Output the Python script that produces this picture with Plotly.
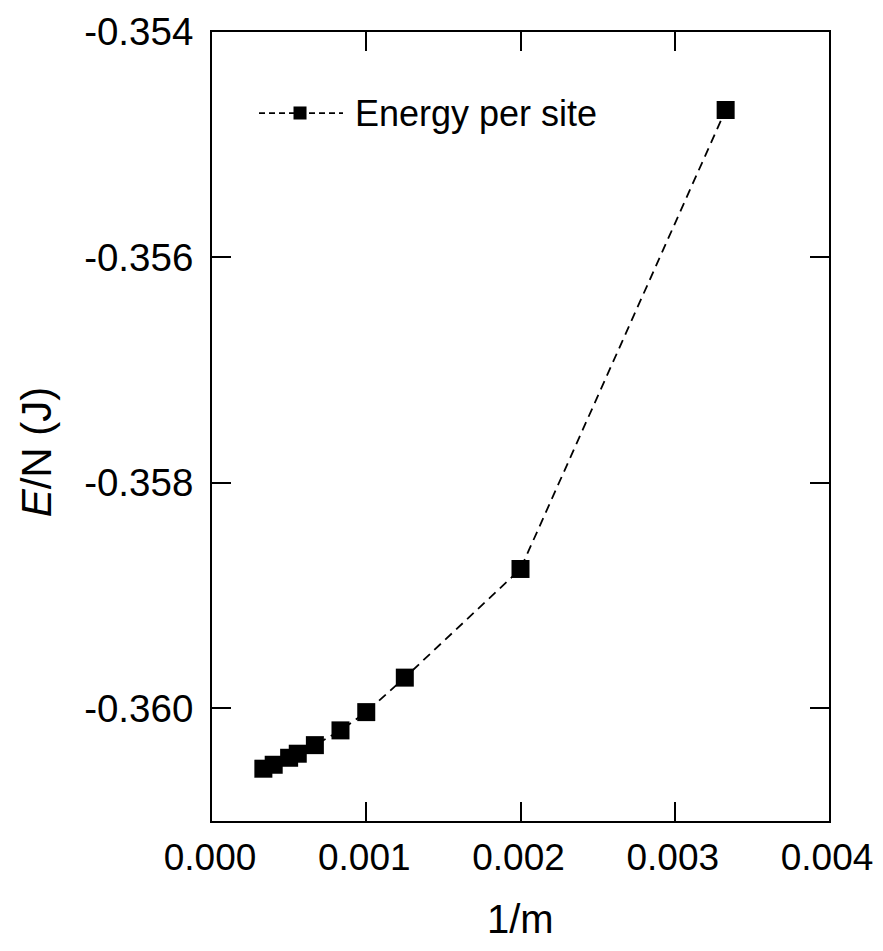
import plotly.graph_objects as go

inv_m = [0.000333, 0.0004, 0.0005, 0.000556, 0.000667, 0.000833, 0.001, 0.00125, 0.002, 0.00333]
energy = [-0.360536, -0.360501, -0.360439, -0.360403, -0.360327, -0.360196, -0.360034, -0.359728, -0.358764, -0.354692]
x_ticks = [0.000, 0.001, 0.002, 0.003, 0.004]
x_labels = ["0.000", "0.001", "0.002", "0.003", "0.004"]
y_ticks = [-0.360, -0.358, -0.356, -0.354]
y_labels = ["-0.360", "-0.358", "-0.356", "-0.354"]
series_name = "Energy per site"

FONT = "Liberation Sans, Arial, sans-serif"
DASH = "9px,6px"

fig = go.Figure()
fig.add_trace(go.Scatter(
    x=inv_m, y=energy, mode="lines+markers", name=series_name,
    line=dict(color="black", width=1.8, dash=DASH),
    marker=dict(symbol="square", size=18, color="black"),
    showlegend=False,
))

axis_common = dict(
    showline=True, linecolor="black", linewidth=2, mirror="ticks",
    ticks="inside", ticklen=19, tickwidth=2, tickcolor="black",
    showgrid=False, zeroline=False, automargin=False,
    ticklabeloverflow="allow",
)

fig.update_xaxes(range=[0, 0.004], tickvals=x_ticks, ticktext=x_labels,
                 ticklabelstandoff=3, ticklabelshift=-2,
                 tickfont=dict(family=FONT, size=37, color="black"), **axis_common)
fig.update_yaxes(range=[-0.361, -0.354], tickvals=y_ticks, ticktext=y_labels,
                 ticklabelstandoff=9,
                 tickfont=dict(family=FONT, size=38.5, color="black"), **axis_common)

fig.add_annotation(text="1/m", xref="paper", yref="paper", x=0.5, y=-0.1546,
                   xanchor="center", yanchor="bottom", showarrow=False,
                   font=dict(family=FONT, size=40, color="black"))
fig.add_annotation(text="<i>E</i>/N (J)", xref="paper", yref="paper", x=-0.283, y=0.4677,
                   xanchor="center", yanchor="middle", textangle=-90, showarrow=False,
                   font=dict(family=FONT, size=42, color="black"))

# legend (drawn manually so the dashed sample is as long as in the reference)
fig.add_shape(type="line", xref="paper", yref="paper", x0=0.0762, x1=0.2123, y0=0.8973, y1=0.8973,
              line=dict(color="black", width=1.8, dash="6px,4px"))
fig.add_shape(type="rect", xref="paper", yref="paper", x0=0.1321, x1=0.1532, y0=0.8891, y1=0.9056,
              fillcolor="black", line=dict(width=0))
fig.add_annotation(text=series_name, xref="paper", yref="paper", x=0.2285, y=0.8973,
                   xanchor="left", yanchor="middle", showarrow=False,
                   font=dict(family=FONT, size=36, color="black"))

fig.update_layout(
    width=867, height=935,
    margin=dict(l=204, r=46, t=24, b=122),
    plot_bgcolor="white", paper_bgcolor="white",
    showlegend=False,
)

fig.write_html("out.html")
